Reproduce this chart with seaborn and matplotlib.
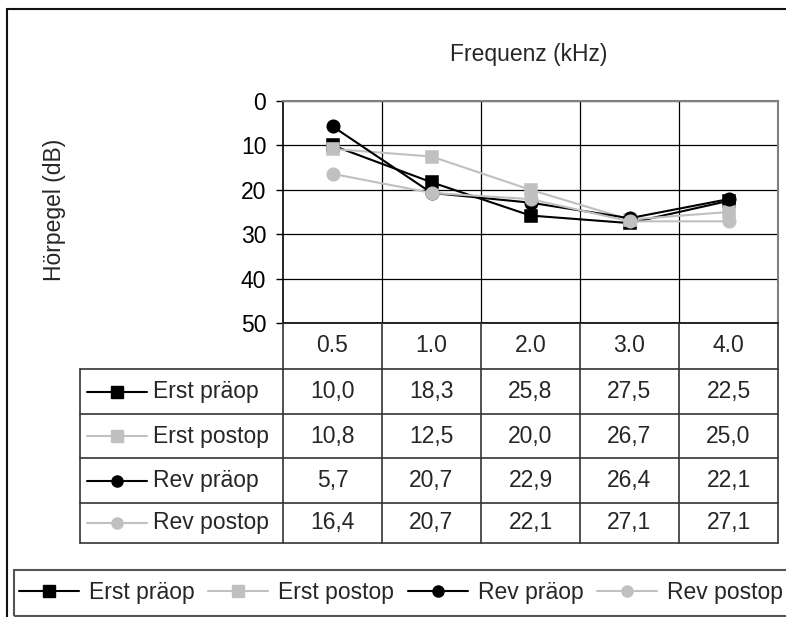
import numpy as np
import pandas as pd
import matplotlib
matplotlib.use("Agg")
import matplotlib.pyplot as plt
import seaborn as sns
from matplotlib.lines import Line2D
from matplotlib.patches import Rectangle
from matplotlib.transforms import blended_transform_factory

# ---- data -------------------------------------------------------------
frequencies = ["0.5", "1.0", "2.0", "3.0", "4.0"]
series_names = ["Erst präop", "Erst postop", "Rev präop", "Rev postop"]
erst_praeop = [10.0, 18.3, 25.8, 27.5, 22.5]
erst_postop = [10.8, 12.5, 20.0, 26.7, 25.0]
rev_praeop = [5.7, 20.7, 22.9, 26.4, 22.1]
rev_postop = [16.4, 20.7, 22.1, 27.1, 27.1]
series_values = [erst_praeop, erst_postop, rev_praeop, rev_postop]

series_colors = ["#000000", "#C0C0C0", "#000000", "#C0C0C0"]
series_markers = ["s", "s", "o", "o"]

df = pd.DataFrame(
    [(name, f, v) for name, vals in zip(series_names, series_values)
     for f, v in zip(frequencies, vals)],
    columns=["Serie", "Frequenz", "Hörpegel"],
)

# ---- figure layout (pixel helpers) -----------------------------------
W, H = 786, 617
FS = 16.5
sns.set_theme(style="white")
plt.rcParams["font.family"] = ["Liberation Sans", "DejaVu Sans"]
plt.rcParams["font.size"] = FS


def fx(x):
    return x / W


def fy(y):
    return 1 - y / H


fig = plt.figure(figsize=(W / 100, H / 100), dpi=100)
fig.patch.set_facecolor("white")

ax = fig.add_axes([fx(283), fy(323), (778 - 283) / W, (323 - 101) / H])
ax.set_facecolor("white")

sns.pointplot(
    data=df, x="Frequenz", y="Hörpegel", hue="Serie",
    order=frequencies, hue_order=series_names,
    palette=series_colors, markers=series_markers, linestyles="-",
    errorbar=None, dodge=False, legend=False, ax=ax,
    markersize=9, linewidth=1.5,
)

ax.set_xlim(-0.5, len(frequencies) - 0.5)
ax.set_ylim(50, 0)
ax.set_yticks(np.arange(0, 51, 10))
ax.set_xticks(np.arange(0.5, len(frequencies) - 0.5, 1.0))
ax.set_xticklabels([])
ax.tick_params(axis="x", length=0)
ax.tick_params(axis="y", length=5, width=1, color="black", pad=7,
               labelsize=FS, left=True, labelcolor="black")
ax.grid(True, color="black", linewidth=0.9)
ax.set_xlabel("")
ax.set_ylabel("")
for side in ["left", "bottom"]:
    ax.spines[side].set_color("black")
    ax.spines[side].set_linewidth(1.2)
for side in ["top", "right"]:
    ax.spines[side].set_color("#808080")
    ax.spines[side].set_linewidth(1.5)

fig.text(fx(529), fy(55), "Frequenz (kHz)", ha="center", va="center", fontsize=FS)
fig.text(fx(55), fy(210), "Hörpegel (dB)", ha="center", va="center",
         rotation=90, fontsize=FS)

# ---- data table below the plot ---------------------------------------
tcol = blended_transform_factory(ax.transData, fig.transFigure)
line_kw = dict(color="#333333", linewidth=1.2)
header_top, header_bottom = 323, 369
row_edges = [369, 414, 458, 503, 543]
table_left = 80

# column separators through header and body
for b in np.arange(-0.5, len(frequencies), 1.0):
    fig.add_artist(Line2D([b, b], [fy(header_top), fy(row_edges[-1])],
                          transform=tcol, **line_kw))
# header labels
for i, f in enumerate(frequencies):
    fig.text(i, fy((header_top + header_bottom) / 2), f, transform=tcol,
             ha="center", va="center", fontsize=FS)
# horizontal rules and left edge
for yedge in row_edges:
    fig.add_artist(Line2D([fx(table_left), fx(778)], [fy(yedge), fy(yedge)],
                          transform=fig.transFigure, **line_kw))
fig.add_artist(Line2D([fx(table_left), fx(table_left)],
                      [fy(row_edges[0]), fy(row_edges[-1])],
                      transform=fig.transFigure, **line_kw))

for r, (name, vals, col, mk) in enumerate(zip(series_names, series_values,
                                              series_colors, series_markers)):
    yc = fy((row_edges[r] + row_edges[r + 1]) / 2)
    fig.add_artist(Line2D([fx(87), fx(147)], [yc, yc], transform=fig.transFigure,
                          color=col, linewidth=1.5))
    fig.add_artist(Line2D([fx(117)], [yc], transform=fig.transFigure,
                          color=col, marker=mk, markersize=8, linestyle="none"))
    fig.text(fx(153), yc, name, ha="left", va="center", fontsize=FS)
    for i, v in enumerate(vals):
        fig.text(i, yc, f"{v:.1f}".replace(".", ","), transform=tcol,
                 ha="center", va="center", fontsize=FS)

# ---- legend strip at the bottom ---------------------------------------
fig.add_artist(Rectangle((fx(14), fy(616)), 1.0, 46 / H, transform=fig.transFigure,
                         facecolor="none", edgecolor="#555555", linewidth=1.5,
                         clip_on=False))
handles = [Line2D([], [], color=c, marker=m, markersize=8, linewidth=1.5)
           for c, m in zip(series_colors, series_markers)]
fig.legend(handles, series_names, loc="center left",
           bbox_to_anchor=(fx(3), fy(593)), ncol=4, frameon=False,
           fontsize=FS, handlelength=2.6, handletextpad=0.45,
           columnspacing=0.6, borderpad=0.2)

# ---- outer chart frame -------------------------------------------------
fig.add_artist(Rectangle((fx(7), -0.1), 1.2, fy(9) + 0.1, transform=fig.transFigure,
                         facecolor="none", edgecolor="#111111", linewidth=1.5,
                         clip_on=False))

fig.savefig("out.png", dpi=100, facecolor="white")
